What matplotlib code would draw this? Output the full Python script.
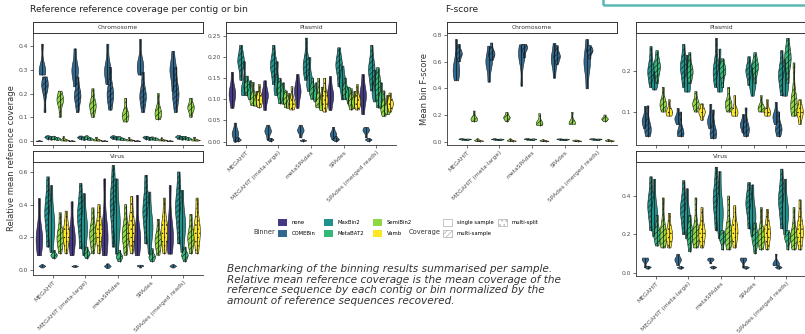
import matplotlib
matplotlib.use('Agg')
import matplotlib.pyplot as plt
import matplotlib.patches as mpatches
import numpy as np

# ── data ────────────────────────────────────────────────
assemblers = ['MEGAHIT', 'MEGAHIT (meta-large)', 'metaSPAdes', 'SPAdes', 'SPAdes (merged reads)']
binners = ['none', 'COMEBin', 'MaxBin2', 'MetaBAT2', 'SemiBin2', 'Vamb']
binner_colors = ['#443983', '#31688E', '#21918C', '#35B779', '#8FD744', '#FDE725']
coverages = ['single sample', 'multi-sample', 'multi-split']

# dodge groups inside each assembler: (binner, coverage)
slot_binner = ['none', 'COMEBin', 'COMEBin', 'MaxBin2', 'MaxBin2',
               'MetaBAT2', 'MetaBAT2', 'SemiBin2', 'SemiBin2', 'Vamb']
slot_coverage = ['single sample', 'single sample', 'multi-sample', 'multi-sample', 'single sample',
                 'multi-sample', 'single sample', 'multi-sample', 'single sample', 'multi-split']

# each slot: one (min, mode, max) per assembler, None = group absent
cov_chromosome = [
    [(0.0, 0.001, 0.003), (0.0, 0.001, 0.003), (0.0, 0.001, 0.003), (0.0, 0.001, 0.003), (0.0, 0.001, 0.003)],
    [(0.28, 0.30, 0.41), (0.23, 0.30, 0.39), (0.24, 0.30, 0.41), (0.28, 0.32, 0.43), (0.21, 0.30, 0.38)],
    [(0.12, 0.23, 0.27), (0.12, 0.19, 0.27), (0.13, 0.20, 0.31), (0.12, 0.19, 0.29), (0.12, 0.20, 0.31)],
    [(0.006, 0.015, 0.022), (0.006, 0.014, 0.021), (0.007, 0.015, 0.022), (0.006, 0.014, 0.020), (0.007, 0.016, 0.023)],
    [(0.006, 0.014, 0.020), (0.005, 0.013, 0.019), (0.006, 0.013, 0.020), (0.005, 0.012, 0.018), (0.006, 0.014, 0.021)],
    [(0.005, 0.012, 0.020), (0.005, 0.013, 0.022), (0.004, 0.011, 0.018), (0.004, 0.010, 0.017), (0.005, 0.012, 0.019)],
    [(0.004, 0.010, 0.016), (0.004, 0.009, 0.015), (0.003, 0.008, 0.014), (0.004, 0.009, 0.015), (0.004, 0.010, 0.016)],
    [(0.10, 0.17, 0.21), (0.10, 0.15, 0.22), (0.08, 0.11, 0.18), (0.09, 0.12, 0.20), (0.10, 0.14, 0.18)],
    [(0.002, 0.006, 0.020), (0.002, 0.006, 0.018), (0.002, 0.005, 0.016), (0.002, 0.005, 0.015), (0.002, 0.006, 0.018)],
    [(0.0, 0.002, 0.005), (0.0, 0.002, 0.005), (0.0, 0.002, 0.004), (0.0, 0.002, 0.004), (0.0, 0.002, 0.005)],
]
cov_plasmid = [
    [(0.080, 0.115, 0.165), (0.075, 0.110, 0.145), (0.080, 0.120, 0.160), (0.075, 0.110, 0.155), (0.065, 0.110, 0.160)],
    [(0.0, 0.020, 0.045), (0.005, 0.025, 0.040), (0.010, 0.027, 0.040), (0.005, 0.018, 0.035), (0.010, 0.027, 0.035)],
    [(0.0, 0.004, 0.010), (0.0, 0.004, 0.008), (0.0, 0.002, 0.005), (0.0, 0.005, 0.012), (0.0, 0.004, 0.008)],
    [(0.145, 0.19, 0.228), (0.135, 0.18, 0.228), (0.145, 0.18, 0.245), (0.130, 0.18, 0.222), (0.120, 0.17, 0.228)],
    [(0.110, 0.125, 0.19), (0.110, 0.13, 0.19), (0.120, 0.14, 0.20), (0.100, 0.14, 0.18), (0.095, 0.12, 0.17)],
    [(0.110, 0.13, 0.155), (0.090, 0.12, 0.15), (0.100, 0.12, 0.15), (0.100, 0.12, 0.15), (0.080, 0.13, 0.175)],
    [(0.100, 0.115, 0.145), (0.090, 0.11, 0.14), (0.095, 0.11, 0.14), (0.090, 0.11, 0.13), (0.080, 0.10, 0.14)],
    [(0.085, 0.10, 0.14), (0.080, 0.10, 0.12), (0.080, 0.095, 0.15), (0.075, 0.095, 0.125), (0.060, 0.08, 0.12)],
    [(0.085, 0.095, 0.12), (0.080, 0.09, 0.115), (0.075, 0.09, 0.13), (0.080, 0.095, 0.12), (0.065, 0.08, 0.11)],
    [(0.080, 0.10, 0.135), (0.075, 0.09, 0.13), (0.070, 0.10, 0.15), (0.075, 0.095, 0.135), (0.070, 0.09, 0.115)],
]
cov_virus = [
    [(0.09, 0.20, 0.44), (0.09, 0.20, 0.42), (0.09, 0.22, 0.56), (0.09, 0.20, 0.46), (0.10, 0.22, 0.52)],
    [(0.015, 0.025, 0.035), (0.018, 0.024, 0.030), (0.012, 0.025, 0.040), (0.015, 0.026, 0.032), (0.015, 0.025, 0.035)],
    None,
    [(0.14, 0.35, 0.57), (0.13, 0.33, 0.53), (0.14, 0.40, 0.64), (0.16, 0.36, 0.58), (0.16, 0.38, 0.60)],
    [(0.11, 0.28, 0.52), (0.09, 0.26, 0.47), (0.10, 0.30, 0.56), (0.10, 0.27, 0.48), (0.11, 0.28, 0.49)],
    [(0.07, 0.09, 0.12), (0.07, 0.10, 0.14), (0.05, 0.08, 0.12), (0.05, 0.08, 0.13), (0.05, 0.09, 0.14)],
    None,
    [(0.10, 0.20, 0.35), (0.10, 0.22, 0.38), (0.09, 0.22, 0.40), (0.09, 0.18, 0.31), (0.10, 0.20, 0.34)],
    None,
    [(0.10, 0.22, 0.36), (0.10, 0.24, 0.40), (0.10, 0.25, 0.45), (0.10, 0.24, 0.44), (0.10, 0.24, 0.44)],
]
f_chromosome = [
    None,
    [(0.46, 0.55, 0.77), (0.45, 0.60, 0.72), (0.42, 0.65, 0.73), (0.48, 0.62, 0.74), (0.40, 0.60, 0.77)],
    [(0.60, 0.66, 0.73), (0.61, 0.66, 0.74), (0.63, 0.70, 0.73), (0.58, 0.64, 0.72), (0.62, 0.68, 0.72)],
    [(0.012, 0.018, 0.022), (0.012, 0.017, 0.022), (0.012, 0.018, 0.023), (0.011, 0.017, 0.021), (0.012, 0.018, 0.022)],
    [(0.012, 0.017, 0.021), (0.011, 0.016, 0.020), (0.012, 0.017, 0.021), (0.011, 0.016, 0.020), (0.012, 0.017, 0.021)],
    [(0.010, 0.016, 0.020), (0.010, 0.015, 0.020), (0.010, 0.016, 0.021), (0.009, 0.015, 0.019), (0.010, 0.016, 0.020)],
    None,
    [(0.15, 0.17, 0.23), (0.15, 0.18, 0.22), (0.12, 0.14, 0.21), (0.13, 0.14, 0.22), (0.15, 0.17, 0.20)],
    [(0.005, 0.012, 0.025), (0.005, 0.012, 0.024), (0.004, 0.010, 0.018), (0.004, 0.010, 0.016), (0.005, 0.011, 0.020)],
    [(0.0, 0.004, 0.008), (0.0, 0.004, 0.008), (0.0, 0.003, 0.007), (0.0, 0.003, 0.007), (0.0, 0.004, 0.008)],
]
f_plasmid = [
    None,
    [(0.060, 0.080, 0.115), (0.070, 0.085, 0.110), (0.060, 0.080, 0.120), (0.050, 0.070, 0.095), (0.070, 0.090, 0.125)],
    [(0.040, 0.060, 0.115), (0.040, 0.050, 0.100), (0.035, 0.050, 0.105), (0.040, 0.060, 0.110), (0.040, 0.060, 0.100)],
    [(0.160, 0.20, 0.260), (0.160, 0.21, 0.265), (0.160, 0.20, 0.280), (0.165, 0.20, 0.235), (0.140, 0.19, 0.250)],
    [(0.155, 0.17, 0.200), (0.150, 0.17, 0.240), (0.150, 0.18, 0.255), (0.140, 0.17, 0.210), (0.140, 0.17, 0.230)],
    [(0.170, 0.21, 0.250), (0.170, 0.20, 0.245), (0.160, 0.20, 0.230), (0.170, 0.21, 0.245), (0.170, 0.23, 0.280)],
    None,
    [(0.100, 0.12, 0.160), (0.100, 0.12, 0.150), (0.100, 0.12, 0.160), (0.100, 0.11, 0.140), (0.090, 0.12, 0.220)],
    None,
    [(0.090, 0.10, 0.130), (0.080, 0.10, 0.120), (0.090, 0.10, 0.140), (0.090, 0.10, 0.130), (0.070, 0.10, 0.130)],
]
f_virus = [
    None,
    [(0.03, 0.07, 0.08), (0.04, 0.07, 0.10), (0.05, 0.07, 0.08), (0.03, 0.07, 0.08), (0.04, 0.05, 0.10)],
    [(0.020, 0.028, 0.035), (0.020, 0.027, 0.034), (0.021, 0.028, 0.035), (0.020, 0.027, 0.033), (0.020, 0.028, 0.036)],
    [(0.22, 0.35, 0.50), (0.20, 0.33, 0.48), (0.22, 0.38, 0.55), (0.23, 0.36, 0.47), (0.23, 0.38, 0.54)],
    [(0.19, 0.30, 0.49), (0.18, 0.28, 0.44), (0.18, 0.32, 0.53), (0.19, 0.30, 0.46), (0.20, 0.32, 0.49)],
    [(0.14, 0.20, 0.30), (0.11, 0.20, 0.30), (0.12, 0.18, 0.22), (0.10, 0.18, 0.26), (0.12, 0.18, 0.22)],
    None,
    [(0.13, 0.20, 0.39), (0.13, 0.20, 0.39), (0.12, 0.20, 0.40), (0.12, 0.19, 0.34), (0.12, 0.19, 0.34)],
    None,
    [(0.13, 0.20, 0.31), (0.13, 0.21, 0.34), (0.13, 0.22, 0.35), (0.12, 0.21, 0.33), (0.12, 0.22, 0.38)],
]

caption = ("Benchmarking of the binning results summarised per sample.\n"
           "Relative mean reference coverage is the mean coverage of the\n"
           "reference sequence by each contig or bin normalized by the\n"
           "amount of reference sequences recovered.")

# ── figure ──────────────────────────────────────────────
W, H = 805, 334
fig = plt.figure(figsize=(W / 100, H / 100), dpi=100)
fig.patch.set_facecolor('white')
plt.rcParams['hatch.linewidth'] = 0.4

hatch_for = {'single sample': None, 'multi-sample': '//////', 'multi-split': '....'}
color_for = dict(zip(binners, binner_colors))
offsets = np.linspace(-0.42, 0.42, len(slot_binner))


def px(x0, y0, x1, y1):
    return [x0 / W, 1 - y1 / H, (x1 - x0) / W, (y1 - y0) / H]


def strip(x0, x1, y0, y1, label):
    s = fig.add_axes(px(x0, y0, x1, y1))
    s.set_xticks([]); s.set_yticks([])
    s.set_facecolor('white')
    for sp in s.spines.values():
        sp.set_linewidth(0.7); sp.set_color('#333333')
    s.text(0.5, 0.5, label, ha='center', va='center', fontsize=4.3, color='#333333')


def panel(box, data, label, ylim, yticks, fmt, xlabels):
    x0, y0, x1, y1 = box
    ax = fig.add_axes(px(x0, y0, x1, y1))
    strip(x0, x1, y0 - 11, y0, label)
    for k, slot in enumerate(data):
        if slot is None:
            continue
        pos = np.arange(len(assemblers)) + offsets[k]
        sets = [[lo, md, md, md, hi] for lo, md, hi in slot]
        parts = ax.violinplot(sets, positions=pos, widths=0.2, showextrema=False, bw_method=0.6)
        for body in parts['bodies']:
            body.set_facecolor(color_for[slot_binner[k]])
            body.set_edgecolor('#1a1a1a')
            body.set_linewidth(0.4)
            body.set_alpha(1)
            h = hatch_for[slot_coverage[k]]
            if h:
                body.set_hatch(h)
        ax.vlines(pos, [s[0] for s in slot], [s[2] for s in slot], color='#111111', lw=0.5, zorder=3)
    ax.set_xlim(-0.6, len(assemblers) - 0.4)
    ax.set_ylim(*ylim)
    ax.set_yticks(yticks)
    ax.set_yticklabels([fmt % t for t in yticks])
    ax.set_xticks(np.arange(len(assemblers)))
    if xlabels:
        ax.set_xticklabels(assemblers, rotation=45, ha='right', rotation_mode='anchor')
    else:
        ax.set_xticklabels([])
    for side in ('top', 'right'):
        ax.spines[side].set_visible(False)
    for side in ('left', 'bottom'):
        ax.spines[side].set_linewidth(0.6); ax.spines[side].set_color('#333333')
    ax.tick_params(length=2, width=0.5, color='#333333', labelsize=4.3, labelcolor='#4d4d4d', pad=1.5)
    return ax


panel((33, 33, 203, 145), cov_chromosome, 'Chromosome', (-0.017, 0.455), [0, 0.1, 0.2, 0.3, 0.4], '%.1f', False)
panel((33, 162, 203, 275), cov_virus, 'Virus', (-0.031, 0.661), [0, 0.2, 0.4, 0.6], '%.1f', True)
panel((226, 33, 396, 145), cov_plasmid, 'Plasmid', (-0.008, 0.257), [0, 0.05, 0.1, 0.15, 0.2, 0.25], '%.2f', True)
panel((447, 33, 617, 145), f_chromosome, 'Chromosome', (-0.025, 0.815), [0, 0.2, 0.4, 0.6, 0.8], '%.1f', True)
panel((636, 33, 806, 145), f_plasmid, 'Plasmid', (0.0195, 0.293), [0.1, 0.2], '%.1f', False)
panel((636, 162, 806, 276), f_virus, 'Virus', (-0.016, 0.577), [0, 0.2, 0.4], '%.1f', True)

# titles / axis labels
fig.text(30 / W, 1 - 10 / H, 'Reference reference coverage per contig or bin', fontsize=6.6,
         color='#222222', va='center')
fig.text(445 / W, 1 - 10 / H, 'F-score', fontsize=6.6, color='#222222', va='center')
fig.text(12 / W, 1 - 158 / H, 'Relative mean reference coverage', rotation=90, fontsize=6,
         color='#333333', ha='center', va='center')
fig.text(424 / W, 1 - 89 / H, 'Mean bin F-score', rotation=90, fontsize=6,
         color='#333333', ha='center', va='center')

# legends
fig.text(253 / W, 1 - 232 / H, 'Binner', fontsize=4.8, color='#333333', va='center')
bh = [mpatches.Patch(facecolor=c, edgecolor='none') for c in binner_colors]
fig.legend(bh, binners, loc='upper left', bbox_to_anchor=(278 / W, 1 - 219 / H), ncol=3,
           frameon=False, fontsize=3.8, handlelength=1.7, handleheight=1.7, labelspacing=0.65,
           columnspacing=1.6, handletextpad=0.9, borderpad=0, borderaxespad=0)
fig.text(409 / W, 1 - 232 / H, 'Coverage', fontsize=4.8, color='#333333', va='center')
ch = [mpatches.Patch(facecolor='white', edgecolor='#999999', hatch=hatch_for[c], lw=0.4) for c in coverages]
fig.legend(ch, coverages, loc='upper left', bbox_to_anchor=(443 / W, 1 - 219 / H), ncol=2,
           frameon=False, fontsize=3.8, handlelength=1.7, handleheight=1.7, labelspacing=0.65,
           columnspacing=0.8, handletextpad=0.9, borderpad=0, borderaxespad=0)

# caption
fig.text(227 / W, 1 - 264 / H, caption, fontsize=7.6, style='italic', color='#333333',
         va='top', ha='left', linespacing=1.08)

# teal frame peeking in at the top right
fig.patches.append(mpatches.Rectangle((603 / W, 1 - 5 / H), 220 / W, 30 / H, transform=fig.transFigure,
                                      fill=False, edgecolor='#5cb8b8', lw=1.8))

fig.savefig('out.png', dpi=100)
